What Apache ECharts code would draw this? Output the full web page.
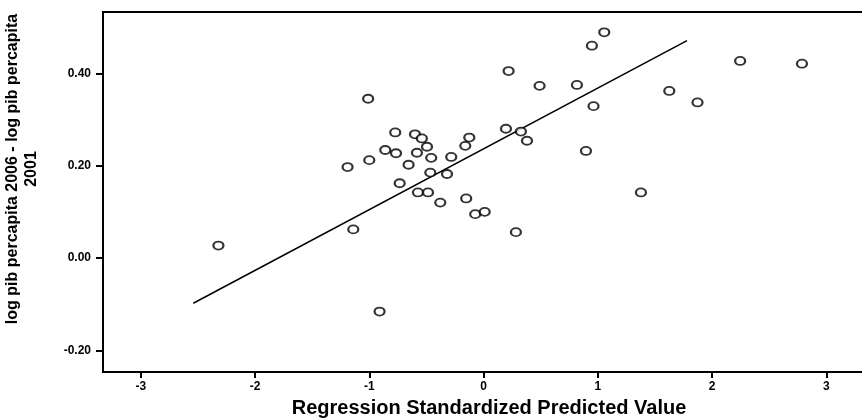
<!DOCTYPE html>
<html>
<head>
<meta charset="utf-8">
<script src="https://cdn.jsdelivr.net/npm/echarts@6/dist/echarts.min.js"></script>
<style>
  html, body { margin: 0; padding: 0; background: #fff; }
  #chart { width: 862px; height: 420px; }
</style>
</head>
<body>
<div id="chart"></div>
<script>
// standardized predicted value (x) vs growth of log pib per capita (y)
const predX = [
  -2.32, -1.14, -0.91, -1.19, -1.0, -1.01, -0.86, -0.773, -0.766, -0.734,
  -0.656, -0.60, -0.583, -0.54, -0.574, -0.495, -0.458, -0.466, -0.486, -0.379,
  -0.32, -0.283, -0.16, -0.125, -0.152, -0.073, 0.01, 0.283, 0.196, 0.327,
  0.38, 0.219, 0.49, 0.817, 0.896, 0.962, 0.948, 1.056, 1.377, 1.625,
  1.872, 2.245, 2.786
];
const growthY = [
  0.027, 0.062, -0.116, 0.197, 0.212, 0.345, 0.234, 0.272, 0.227, 0.162,
  0.202, 0.268, 0.228, 0.259, 0.142, 0.241, 0.217, 0.185, 0.142, 0.12,
  0.182, 0.219, 0.243, 0.261, 0.129, 0.095, 0.10, 0.056, 0.28, 0.274,
  0.254, 0.405, 0.373, 0.375, 0.232, 0.329, 0.46, 0.489, 0.142, 0.362,
  0.337, 0.427, 0.421
];
// fit line end points
const fitX = [-2.54, 1.78];
const fitY = [-0.098, 0.471];

const xTicks = [-3, -2, -1, 0, 1, 2, 3];
const yTicks = [-0.2, 0, 0.2, 0.4];

const points = predX.map((x, i) => [x, growthY[i]]);
const fitLine = fitX.map((x, i) => [x, fitY[i]]);

const chart = echarts.init(document.getElementById("chart"));
const font = "Liberation Sans";

chart.setOption({
  animation: false,
  backgroundColor: "#fff",
  grid: {
    left: 103,
    top: 12,
    width: 772,
    height: 360,
    outerBoundsMode: "none",
    containLabel: false,
    show: true,
    borderColor: "#000",
    borderWidth: 2,
  },
  xAxis: {
    type: "value",
    min: -3.33,
    max: 3.425,
    name: "Regression Standardized Predicted Value",
    nameLocation: "middle",
    nameGap: 26,
    nameTextStyle: { fontFamily: font, fontWeight: "bold", fontSize: 20, color: "#000" },
    axisLine: { show: true, onZero: false, lineStyle: { color: "#000", width: 2 } },
    axisTick: { show: true, customValues: xTicks, length: 6, lineStyle: { color: "#000", width: 2 } },
    axisLabel: {
      customValues: xTicks,
      fontFamily: font, fontWeight: "bold", fontSize: 12, color: "#000", margin: 9,
    },
    splitLine: { show: false },
  },
  yAxis: {
    type: "value",
    min: -0.247,
    max: 0.533,
    name: "log pib percapita 2006 - log pib percapita\n2001",
    nameLocation: "middle",
    nameGap: 62,
    nameTextStyle: {
      fontFamily: font, fontWeight: "bold", fontSize: 16, color: "#000",
      lineHeight: 19, padding: [0, 0, 0, 46],
    },
    axisLine: { show: true, onZero: false, lineStyle: { color: "#000", width: 2 } },
    axisTick: { show: true, customValues: yTicks, length: 7, lineStyle: { color: "#000", width: 2 } },
    axisLabel: {
      customValues: yTicks,
      formatter: (v) => v.toFixed(2),
      fontFamily: font, fontWeight: "bold", fontSize: 12, color: "#000", margin: 12,
    },
    splitLine: { show: false },
  },
  series: [
    {
      type: "line",
      data: fitLine,
      symbol: "none",
      lineStyle: { color: "#000", width: 1.5 },
      z: 1,
    },
    {
      type: "scatter",
      data: points,
      symbol: "circle",
      symbolSize: [10, 8],
      itemStyle: { color: "#fff", borderColor: "#000", borderWidth: 2 },
      z: 2,
    },
  ],
});
</script>
</body>
</html>
